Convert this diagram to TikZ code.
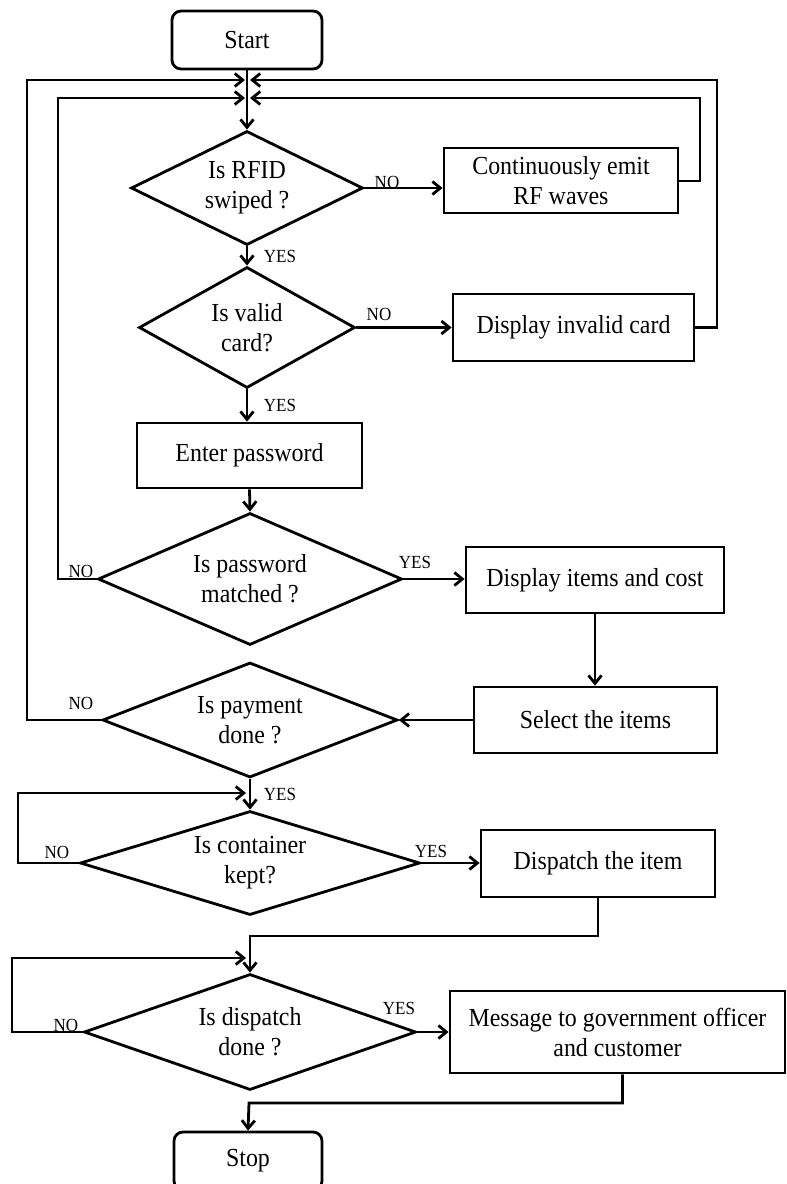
\documentclass[tikz,border=0pt]{standalone}
\usepackage{fontspec}
\setmainfont{Liberation Serif}[FakeStretch=0.92]
\usetikzlibrary{shapes.geometric,arrows.meta,calc}
\begin{document}
\begin{tikzpicture}[x=1pt,y=-1pt,
  line width=2.8pt,
  every node/.style={font=\fontsize{26}{30}\selectfont, text=black},
  box/.style={draw, rectangle, align=center, inner sep=0pt},
  term/.style={box, rounded corners=9pt},
  dec/.style={draw, diamond, align=center, inner sep=0pt},
  lbl/.style={font=\fontsize{18.5}{20}\selectfont, inner sep=0pt},
  arr/.style={-{Straight Barb[length=8pt,width=13pt]}},
  conn/.style={line width=2.8pt}
]
\clip (0,0) rectangle (787,1184);

% nodes
\node[term, minimum width=150pt, minimum height=58pt] (start) at (247,40) {Start};
\node[dec, shape aspect=2.03, minimum width=232pt, minimum height=114pt] (d1) at (247,188) {Is RFID\\swiped ?};
\node[box, minimum width=234pt, minimum height=65pt] (rf) at (561,180.5) {Continuously emit\\RF waves};
\node[dec, shape aspect=1.8, minimum width=216pt, minimum height=121pt] (d2) at (247,327.5) {Is valid\\card?};
\node[box, minimum width=241pt, minimum height=67pt] (inv) at (573.5,327.5) {Display invalid card};
\node[box, minimum width=225pt, minimum height=65pt] (enter) at (249.5,455.5) {Enter password};
\node[dec, shape aspect=2.3, minimum width=304pt, minimum height=132pt] (d3) at (250,579) {Is password\\matched ?};
\node[box, minimum width=258pt, minimum height=66pt] (cost) at (595,580) {Display items and cost};
\node[box, minimum width=243pt, minimum height=66pt] (sel) at (595.5,720) {Select the items};
\node[dec, shape aspect=2.58, minimum width=295pt, minimum height=115pt] (d4) at (250,720) {Is payment\\done ?};
\node[dec, shape aspect=3.27, minimum width=340pt, minimum height=104pt] (d5) at (250,863) {Is container\\kept?};
\node[box, minimum width=234pt, minimum height=67pt] (disp) at (598,863.5) {Dispatch the item};
\node[dec, shape aspect=2.86, minimum width=332pt, minimum height=116pt] (d6) at (250,1032) {Is dispatch\\done ?};
\node[box, minimum width=335pt, minimum height=82pt] (msg) at (617.5,1032) {Message to government officer\\and customer};
\node[term, minimum width=148pt, minimum height=58pt] (stop) at (248,1161) {Stop};

% labels
\node[lbl] (l1) at (387,182) {NO};
\node[lbl] (l2) at (280,256) {YES};
\node[lbl] (l3) at (379,314) {NO};
\node[lbl] (l4) at (280,405) {YES};
\node[lbl] (l5) at (81,571) {NO};
\node[lbl] (l6) at (415,562) {YES};
\node[lbl] (l7) at (81,703) {NO};
\node[lbl] (l8) at (280,794) {YES};
\node[lbl] (l9) at (57,852) {NO};
\node[lbl] (l10) at (431,851) {YES};
\node[lbl] (l11) at (66,1025) {NO};
\node[lbl] (l12) at (399,1008) {YES};

% merge coordinates
\coordinate (m1l) at (245,80);
\coordinate (m1r) at (250,80);
\coordinate (m2l) at (245,98);
\coordinate (m2r) at (250,98);
\coordinate (m5) at (246,793);
\coordinate (j6) at (250,936);
\coordinate (m6) at (246,958);
\coordinate (j7) at (249,1103);

% main flow
\draw[conn, arr] (start.south) -- (d1.north);
\draw[conn, arr] (d1.south) -- (d2.north);
\draw[conn, arr] (d1.east) -- (d1.east -| rf.west);
\draw[conn, arr] (d2.east) -- (d2.east -| inv.west);
\draw[conn, arr] (d2.south) -- (d2.south |- enter.north);
\draw[conn, arr] (enter.south) -- (d3.north);
\draw[conn, arr] (d3.east) -- (d3.east -| cost.west);
\draw[conn, arr] (cost.south) -- (cost.south |- sel.north);
\draw[conn, arr] (sel.west) -- (d4.east);
\draw[conn, arr] (d4.south) -- (d5.north);
\draw[conn, arr] (d5.east) -- (d5.east -| disp.west);
\draw[conn, arr] (disp.south) -- (disp.south |- j6) -- (j6) -- (d6.north);
\draw[conn, arr] (d6.east) -- (d6.east -| msg.west);
\draw[conn, arr] ([xshift=5pt]msg.south) -- ([xshift=5pt]msg.south |- j7) -- (j7) -- (stop.north);

% feedback loops
\draw[conn, arr] (rf.east |- 0,181) -- (700,181) -- (700,98) -- (m2r);
\draw[conn, arr] (inv.east) -- (717,327.5) -- (717,80) -- (m1r);
\draw[conn, arr] (d3.west) -- (58,579) -- (58,98) -- (m2l);
\draw[conn, arr] (d4.west) -- (27,720) -- (27,80) -- (m1l);
\draw[conn, arr] (d5.west) -- (18,863) -- (18,793) -- (m5);
\draw[conn, arr] (d6.west) -- (12,1032) -- (12,958) -- (m6);
\end{tikzpicture}
\end{document}
